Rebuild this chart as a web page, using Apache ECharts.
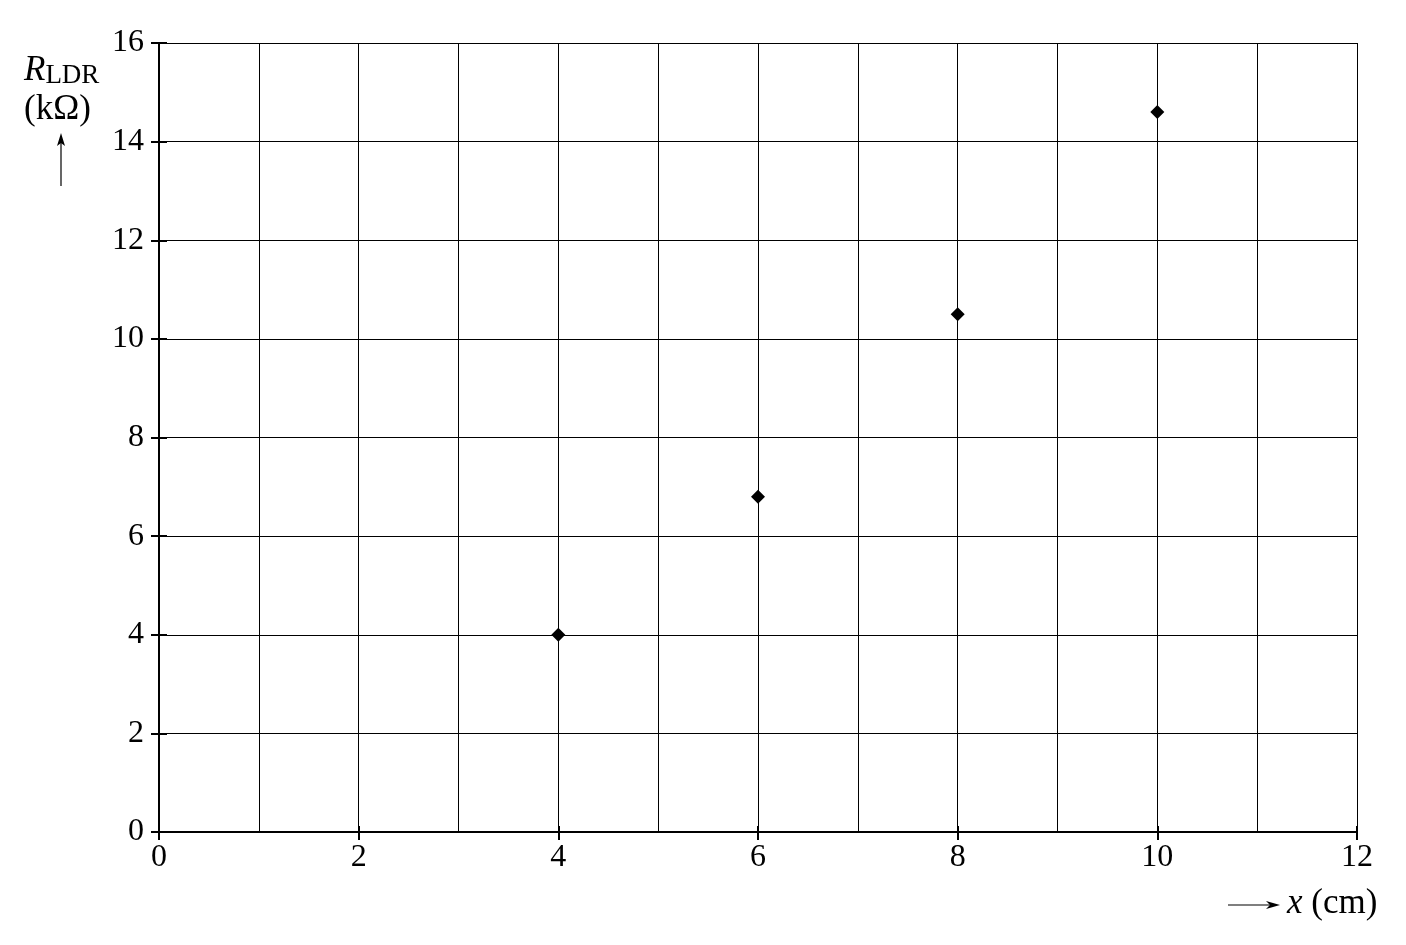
<!DOCTYPE html>
<html>
<head>
<meta charset="utf-8">
<script src="https://cdn.jsdelivr.net/npm/echarts@6/dist/echarts.min.js"></script>
<style>
    html, body { margin: 0; padding: 0; background: #fff; }
    #graph { width: 1406px; height: 945px; }
</style>
</head>
<body>
<div id="graph"></div>
<script>
    var xValues = [4, 6, 8, 10];
    var rValues = [4, 6.8, 10.5, 14.6];
    var xTicks = [0, 2, 4, 6, 8, 10, 12];
    var yTicks = [0, 2, 4, 6, 8, 10, 12, 14, 16];

    var font = 'Liberation Serif';
    var points = xValues.map(function(x, i) { return [x, rValues[i]]; });

    var chart = echarts.init(document.getElementById('graph'));

    // extra axes that only draw tick marks (outside / inside)
    function tickAxis(type, inside, len) {
        var a = {
            type: 'value', min: 0, max: type === 'x' ? 12 : 16, interval: 2,
            position: type === 'x' ? 'bottom' : 'left',
            axisLine: {show: false}, splitLine: {show: false}, axisLabel: {show: false},
            axisTick: {show: true, inside: inside, length: len, lineStyle: {color: '#000', width: 2}}
        };
        return a;
    }

    var option = {
        animation: false,
        backgroundColor: '#fff',
        grid: {left: 159, right: 49, top: 43, bottom: 113, containLabel: false},
        xAxis: [
            {
                type: 'value', min: 0, max: 12, interval: 1,
                axisLine: {show: true, onZero: false, lineStyle: {color: '#000', width: 2}},
                splitLine: {show: true, lineStyle: {color: '#000', width: 1}},
                axisTick: {show: false},
                axisLabel: {
                    color: '#000', fontFamily: font, fontSize: 32, margin: 10,
                    formatter: function(v) { return xTicks.indexOf(v) >= 0 ? String(v) : ''; }
                }
            },
            tickAxis('x', false, 8),
            tickAxis('x', true, 6)
        ],
        yAxis: [
            {
                type: 'value', min: 0, max: 16, interval: 2,
                axisLine: {show: true, onZero: false, lineStyle: {color: '#000', width: 2}},
                splitLine: {show: true, lineStyle: {color: '#000', width: 1}},
                axisTick: {show: true, length: 8, lineStyle: {color: '#000', width: 2}},
                axisLabel: {
                    color: '#000', fontFamily: font, fontSize: 32, margin: 15,
                    formatter: function(v) { return yTicks.indexOf(v) >= 0 ? String(v) : ''; }
                }
            },
            tickAxis('y', true, 8)
        ],
        series: [{
            type: 'scatter',
            data: points,
            symbol: 'diamond',
            symbolSize: 14,
            itemStyle: {color: '#000', opacity: 1}
        }],
        graphic: [
            {
                type: 'text', left: 24, top: 53,
                style: {
                    rich: {
                        r: {fontFamily: font, fontStyle: 'italic', fontSize: 35, fill: '#000'},
                        s: {fontFamily: font, fontSize: 27, fill: '#000', padding: [10, 0, 0, 0]}
                    },
                    text: '{r|R}{s|LDR}'
                }
            },
            {
                type: 'text', left: 24, top: 92,
                style: {text: '(kΩ)', fontFamily: font, fontSize: 35, fill: '#000'}
            },
            {
                type: 'line', shape: {x1: 61, y1: 186, x2: 61, y2: 142},
                style: {stroke: '#000', lineWidth: 1.2}
            },
            {
                type: 'polygon', shape: {points: [[61, 133], [57, 146], [61, 143], [65, 146]]},
                style: {fill: '#000'}
            },
            {
                type: 'line', shape: {x1: 1228, y1: 905, x2: 1270, y2: 905},
                style: {stroke: '#000', lineWidth: 1.2}
            },
            {
                type: 'polygon', shape: {points: [[1280, 905], [1266, 901], [1270, 905], [1266, 909]]},
                style: {fill: '#000'}
            },
            {
                type: 'text', left: 1287, top: 886,
                style: {
                    rich: {
                        i: {fontFamily: font, fontStyle: 'italic', fontSize: 35, fill: '#000'},
                        n: {fontFamily: font, fontSize: 35, fill: '#000'}
                    },
                    text: '{i|x}{n| (cm)}'
                }
            }
        ]
    };

    chart.setOption(option);
</script>
</body>
</html>
